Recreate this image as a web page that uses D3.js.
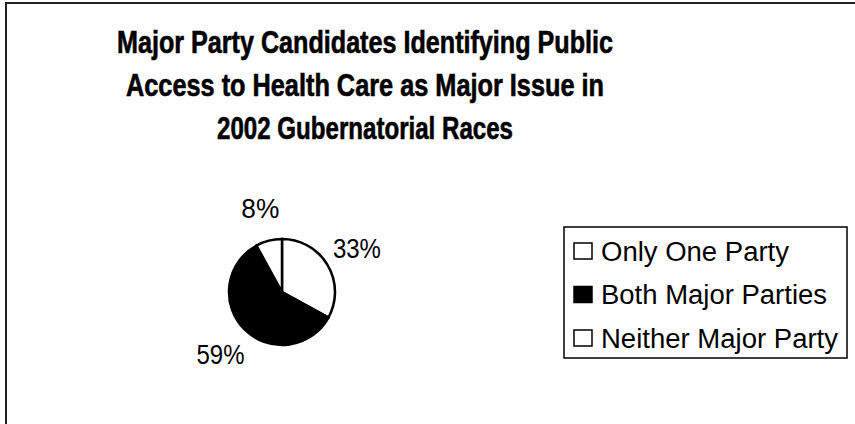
<!DOCTYPE html>
<html>
<head>
<meta charset="utf-8">
<script src="https://cdn.jsdelivr.net/npm/d3@7"></script>
<style>
  body { margin: 0; background: #fff; }
  svg { display: block; font-family: Arial, "Liberation Sans", sans-serif; }
</style>
</head>
<body>
<svg id="chart"></svg>
<script>
const width = 855;
const height = 424;

const categories = ["Only One Party", "Both Major Parties", "Neither Major Party"];
const values = [33, 59, 8];
const fills = ["#fff", "#000", "#fff"];
const titleLines = [
  "Major Party Candidates Identifying Public",
  "Access to Health Care as Major Issue in",
  "2002 Gubernatorial Races"
];
// scanned text is squeezed, so widths are pinned
const titleWidths = [496, 478, 296];
const legendWidths = [188, 226, 237];

const svg = d3.select("#chart").attr("width", width).attr("height", height);

// frame (only top and left edges show in the scan)
svg.append("rect")
  .attr("x", 6).attr("y", 3)
  .attr("width", 900).attr("height", 500)
  .attr("fill", "none")
  .attr("stroke", "#222")
  .attr("stroke-width", 2);

// title
svg.selectAll(".title")
  .data(titleLines)
  .enter()
  .append("text")
  .attr("class", "title")
  .attr("x", 365)
  .attr("y", (d, i) => 53 + i * 43)
  .attr("text-anchor", "middle")
  .attr("font-size", "31px")
  .attr("font-weight", "bold")
  .attr("stroke", "#000")
  .attr("stroke-width", 0.6)
  .attr("textLength", (d, i) => titleWidths[i])
  .attr("lengthAdjust", "spacingAndGlyphs")
  .text((d) => d);

// pie
const cx = 282, cy = 292, r = 53;

const pie = d3.pie().sort(null).value((d) => d.value);
const arcs = pie(categories.map((c, i) => ({name: c, value: values[i], fill: fills[i]})));

const arc = d3.arc().innerRadius(0).outerRadius(r);
const labelArc = d3.arc().innerRadius(87).outerRadius(87);

const g = svg.append("g").attr("transform", `translate(${cx},${cy})`);

g.selectAll("path")
  .data(arcs)
  .enter()
  .append("path")
  .attr("d", arc)
  .attr("fill", (d) => d.data.fill)
  .attr("stroke", "#000")
  .attr("stroke-width", 2.5);

g.selectAll(".pct")
  .data(arcs)
  .enter()
  .append("text")
  .attr("class", "pct")
  .attr("transform", (d) => `translate(${labelArc.centroid(d)})`)
  .attr("text-anchor", "middle")
  .attr("dy", "0.36em")
  .attr("font-size", "28px")
  .attr("textLength", (d) => (d.data.value < 10 ? 38 : 48))
  .attr("lengthAdjust", "spacingAndGlyphs")
  .text((d) => d.data.value + "%");

// legend
const legend = svg.append("g");

legend.append("rect")
  .attr("x", 564).attr("y", 227)
  .attr("width", 283).attr("height", 131)
  .attr("fill", "#fff")
  .attr("stroke", "#000")
  .attr("stroke-width", 1.5);

const rowY = d3.scalePoint().domain(categories).range([251, 338]);

legend.selectAll(".swatch")
  .data(arcs)
  .enter()
  .append("rect")
  .attr("class", "swatch")
  .attr("x", 574)
  .attr("y", (d) => rowY(d.data.name) - 8)
  .attr("width", 18)
  .attr("height", 16)
  .attr("fill", (d) => d.data.fill)
  .attr("stroke", "#000")
  .attr("stroke-width", 1.5);

legend.selectAll(".ltext")
  .data(arcs)
  .enter()
  .append("text")
  .attr("class", "ltext")
  .attr("x", 601)
  .attr("y", (d) => rowY(d.data.name))
  .attr("dy", "0.36em")
  .attr("font-size", "27px")
  .attr("textLength", (d, i) => legendWidths[i])
  .attr("lengthAdjust", "spacingAndGlyphs")
  .text((d) => d.data.name);
</script>
</body>
</html>
